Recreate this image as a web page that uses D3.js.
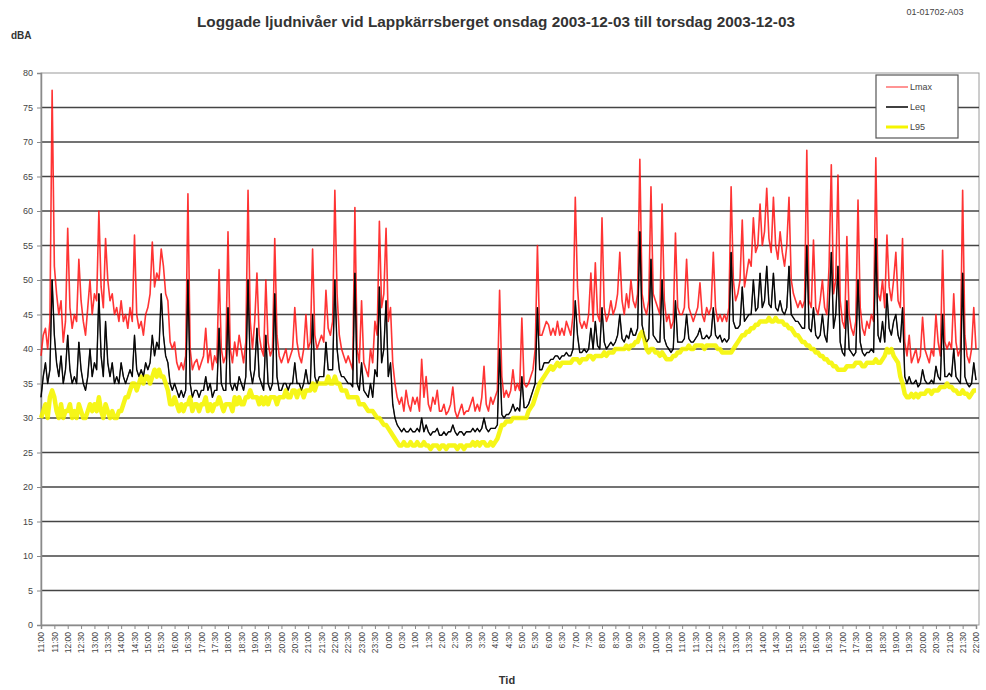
<!DOCTYPE html>
<html>
<head>
<meta charset="utf-8">
<script src="https://cdn.jsdelivr.net/npm/d3@7"></script>
<style>
  body { margin: 0; background: #fff; }
  svg { font-family: "Liberation Sans", Arial, sans-serif; }
</style>
</head>
<body>
<svg id="chart" width="986" height="690"></svg>
<script>
// Logged sound levels, one value every 5 minutes from 11:00 to 22:00 the next day
const lmax = [
  39, 42, 43, 40, 44, 77.5, 52, 48, 45, 47, 41, 44,
  57.5, 46, 43, 45, 44, 53, 47, 44, 42, 46, 50, 45,
  48, 47, 60, 49, 46, 56, 50, 47, 48, 45, 46, 44,
  47, 44, 45, 43, 46, 44, 56.5, 45, 43, 44, 42, 45,
  46, 48, 55.5, 49, 51, 50, 54.5, 52, 48, 47, 41, 40,
  41, 38, 37, 38, 37, 39, 62.5, 40, 37, 38, 38.5, 37,
  38, 39, 43, 38, 40, 37, 39, 38, 51.5, 40, 38, 39,
  57, 40, 38, 41, 39, 42, 40, 38, 41, 63, 44, 40,
  44, 51, 42, 40, 39, 50, 41, 39, 40, 56, 42, 39,
  38, 39, 40, 38, 39, 40, 46, 41, 39, 38, 40, 45,
  40, 41, 54.5, 42, 40, 41, 42, 41, 48.5, 43, 42, 44,
  63, 48, 42, 40, 39, 38, 39, 38, 37, 60.5, 40, 38,
  47, 38, 37, 36, 40, 38, 44, 42, 58.5, 46, 48, 57.5,
  44, 46, 38, 35, 33, 32, 33, 31, 34, 32, 31, 33,
  32, 33, 31, 38.5, 33, 36, 32, 31, 33, 32, 34, 31,
  31, 32, 30.5, 31, 32, 34.5, 31, 30, 31, 32, 30.5, 31,
  31, 32, 33, 31, 32, 31, 33, 37.5, 32, 31, 33, 32,
  33, 34, 48.5, 36, 33, 34, 33, 34, 37, 34, 35, 34,
  44.5, 35, 34.5, 35, 36, 37, 40, 55, 42, 42, 43, 44,
  43.5, 42, 43, 42, 44, 42, 43, 42, 44, 43, 42, 45,
  62, 49, 44, 43, 44, 43, 45, 51, 44, 52.5, 45, 44,
  59, 46, 44, 45, 47, 45, 46, 48, 54, 47, 45, 48,
  46, 50, 47, 46, 48, 67.5, 48, 46, 45, 47, 63.5, 48,
  47, 46, 45, 61, 47, 44, 45, 43, 44, 56.8, 46, 45,
  45, 46, 53, 46, 45, 44, 45, 46, 49.6, 45, 44, 46,
  45, 46, 54, 46, 44, 45, 44, 45, 44, 46, 63.5, 50,
  47, 48, 50, 58.7, 49, 51, 53, 52, 59, 54, 55, 61,
  55, 57, 63.3, 56, 54, 62, 55, 53, 57, 54, 52, 55,
  62, 50, 48, 47, 46, 47, 46, 47, 68.8, 47, 46, 55.8,
  46, 45, 47, 50, 46, 45, 52, 66.7, 48, 50, 65.2, 47,
  44, 43, 56.3, 45, 43, 42, 44, 61.6, 46, 43, 42, 44,
  43, 45, 44, 67.7, 48, 47, 50, 46, 56.5, 49, 47, 50,
  54, 47, 46, 56, 41, 39, 42, 38, 39, 40, 38, 39,
  44.6, 40, 39, 38, 40, 39, 45, 41, 39, 54.3, 41, 40,
  41, 40, 48, 41, 39, 40, 63, 42, 39, 38, 40, 46,
  40
];

const leq = [
  33, 36, 38, 35, 37, 50, 42, 38, 36, 39, 35, 37,
  42, 37, 35, 36, 35, 41, 37, 35, 34, 36, 40, 36,
  38, 37, 48, 39, 36, 44, 38, 36, 38, 35, 36, 35,
  38, 36, 35, 36, 37, 36, 42, 37, 36, 37, 36, 38,
  37, 38, 42, 39, 41, 40, 48, 42, 39, 38, 35, 34,
  35, 34, 33, 34, 33, 34, 50, 35, 33, 34, 34, 33,
  34, 34, 36, 34, 35, 33, 34, 34, 43, 35, 34, 34,
  46, 35, 34, 35, 34, 36, 35, 34, 36, 50, 37, 35,
  37, 43, 36, 35, 34, 42, 35, 34, 35, 48, 36, 34,
  34, 35, 35, 34, 35, 35, 38, 35, 35, 34, 35, 37,
  35, 35, 45, 36, 35, 36, 36, 36, 41, 37, 37, 37,
  50, 40, 37, 36, 36, 35.5, 35, 35, 34.5, 51, 35, 34,
  38, 34, 33.5, 33, 35, 33, 37, 36, 49, 38, 40, 47,
  36, 38, 32, 30, 29, 28.5, 28, 28.5, 28, 28, 28.5, 28,
  28, 28.5, 28, 30, 28, 29, 28, 27.5, 28, 28, 28.5, 27.5,
  27.5, 28, 27.5, 28, 28, 29, 28, 27.5, 28, 28, 27.5, 28,
  28, 28, 28.5, 28, 28.5, 28, 28.5, 30, 28.5, 28, 28.5, 28.5,
  28.5, 29, 40, 30.5, 30, 30.5, 30.5, 31, 32, 31, 31.5, 31,
  36, 31.5, 31.5, 32, 33, 34, 35, 46, 37, 37, 38, 38,
  38, 38.5, 38.5, 39, 39, 38.5, 39, 39, 39.5, 39, 39, 40,
  47, 42, 39.5, 39.5, 40, 39.5, 40, 43, 40, 44, 40.5, 40,
  46, 41, 40, 40.5, 41, 40.5, 41, 42, 45, 41.5, 41, 42,
  41.5, 43, 42, 42, 43, 57, 43.5, 42, 41, 41.5, 53, 42,
  41.5, 41, 41, 50, 41.5, 40.5, 40, 39.5, 40, 47, 41, 41,
  41, 41.5, 45, 41.5, 41, 41, 41.5, 42, 43, 41.5, 41.5, 42,
  41.5, 42, 46, 42, 41.5, 42, 41, 41.5, 41, 41.5, 54, 44,
  43, 43, 43.5, 49, 44, 44.5, 45, 45, 50, 45.5, 46, 51,
  46, 47, 52, 46.5, 46, 51, 46, 45.5, 47, 45.5, 45, 46,
  52, 45, 44.5, 44, 44, 43.5, 43, 43, 55, 43, 42.5, 46,
  42, 41.5, 42, 45, 42, 41, 46, 54, 43, 45, 52, 41,
  39.5, 39, 47, 40, 39.5, 39, 39.5, 50, 41, 39.5, 39, 39.5,
  39.5, 40, 39.5, 56, 42, 41, 44, 41, 48, 43, 42, 44,
  45, 42, 41, 46, 36, 35, 36, 35, 35, 35.5, 34.5, 35,
  37, 35.5, 35, 35, 35.5, 35, 37.5, 36, 35.5, 45, 36, 36,
  36.5, 36, 40, 36, 35.5, 35, 51, 36, 35, 34.5, 35, 38,
  35.5
];

const l95 = [
  30, 31, 32, 30, 33, 34, 33, 31, 30, 32, 30, 31,
  31, 32, 30, 31, 30, 32, 31, 30, 30, 31, 32, 31,
  32, 31, 33, 31, 30, 32, 31, 30, 31, 30, 30, 31,
  31, 32, 33, 33, 34, 35, 35, 34, 35, 36, 35, 36,
  36, 35, 36, 37, 36, 37, 36, 36, 35, 34, 32, 32,
  33, 32, 31, 32, 31, 32, 32, 33, 31, 32, 32, 31,
  32, 32, 33, 31, 32, 31, 32, 32, 33, 32, 31, 32,
  32, 32, 31, 33, 32, 33, 32, 32, 33, 33, 34, 33,
  33, 33, 32, 33, 32, 33, 32, 33, 33, 33, 32, 33,
  33, 33, 34, 33, 33, 34, 34, 33, 34, 34, 33, 34,
  34, 34, 35, 34, 35, 35, 35, 35, 35, 36, 35, 35,
  36, 35, 35, 34, 34, 34, 33, 33, 33, 33, 33, 32,
  32, 32, 31.5, 31, 31, 31, 30.5, 30, 30, 29.5, 29, 29,
  28.5, 28, 27.5, 27, 26.5, 26, 26, 26.5, 26, 26, 26.5, 26,
  26, 26.5, 26, 26, 26.5, 26, 26, 25.5, 26, 26, 26, 25.5,
  26, 26, 25.5, 26, 26, 26, 26, 25.5, 26, 26, 25.5, 26,
  26, 26, 26.5, 26, 26.5, 26, 26.5, 26.5, 26, 26, 26.5, 26,
  26.5, 27, 28, 29, 29, 29.5, 29.5, 29.5, 30, 30, 30, 30,
  30, 30, 30, 31, 31.5, 32, 33, 34, 35, 35.5, 36, 36.5,
  37, 37.5, 37, 37.5, 38, 37.5, 38, 38, 38, 38, 38, 38.5,
  38.5, 38.5, 38, 38.5, 38.5, 38.5, 39, 39, 38.5, 39, 39, 39,
  39, 39.5, 39, 39.5, 39.5, 39.5, 40, 40, 40, 40, 40, 40.5,
  40, 40.5, 40.5, 41, 41, 42, 42.5, 41.5, 40, 39.5, 40, 40,
  39.5, 39.5, 39, 39.5, 39, 38.5, 38.5, 38.5, 39, 39, 39.5, 39.5,
  40, 40, 40, 40.5, 40, 40, 40.5, 40.5, 40.5, 40.5, 40, 40.5,
  40.5, 40.5, 40.5, 40.5, 40, 40, 39.5, 39.5, 39.5, 39.5, 39.5, 40,
  40.5, 41, 41.5, 42, 42, 42.5, 42.5, 43, 43, 43.5, 43.5, 44,
  44, 44, 44, 44.5, 44, 44, 44.5, 44, 44, 44, 43.5, 43.5,
  43, 43, 42.5, 42, 42, 41.5, 41, 41, 40.5, 40.5, 40, 40,
  39.5, 39.5, 39, 39, 38.5, 38.5, 38, 38, 37.5, 37.5, 37, 37,
  37, 37, 37.5, 37.5, 37.5, 37.5, 38, 38, 38, 37.5, 37.5, 38,
  38, 38, 38, 38.5, 38, 38, 38.5, 39, 40, 39.5, 40, 39,
  38.5, 38, 36, 35, 33.5, 33, 33, 33.5, 33, 33.5, 33, 33.5,
  33.5, 33.5, 34, 34, 33.5, 34, 34, 34, 34.5, 34.5, 34.5, 35,
  34.5, 34.5, 34, 34, 33.5, 33.5, 34, 33.5, 33.5, 33, 33.5, 34,
  34
];

// One label every 30 minutes (every 6th sample)
const tickLabels = [
  '11:00', '11:30', '12:00', '12:30', '13:00', '13:30', '14:00', '14:30',
  '15:00', '15:30', '16:00', '16:30', '17:00', '17:30', '18:00', '18:30',
  '19:00', '19:30', '20:00', '20:30', '21:00', '21:30', '22:00', '22:30',
  '23:00', '23:30', '0:00', '0:30', '1:00', '1:30', '2:00', '2:30',
  '3:00', '3:30', '4:00', '4:30', '5:00', '5:30', '6:00', '6:30',
  '7:00', '7:30', '8:00', '8:30', '9:00', '9:30', '10:00', '10:30',
  '11:00', '11:30', '12:00', '12:30', '13:00', '13:30', '14:00', '14:30',
  '15:00', '15:30', '16:00', '16:30', '17:00', '17:30', '18:00', '18:30',
  '19:00', '19:30', '20:00', '20:30', '21:00', '21:30', '22:00'
];

const yTicks = [0, 5, 10, 15, 20, 25, 30, 35, 40, 45, 50, 55, 60, 65, 70, 75, 80];

const seriesNames = ['Lmax', 'Leq', 'L95'];
const seriesColors = ['#ff1010', '#000000', '#f5f500'];

const svg = d3.select('#chart');

// Plot area
const margin = { top: 73, right: 10, bottom: 65, left: 41 };
const plotRight = 979;
const plotBottom = 625;

const x = d3.scaleLinear()
  .domain([0, lmax.length - 1])
  .range([margin.left, 976]);

const y = d3.scaleLinear()
  .domain([0, 80])
  .range([plotBottom, margin.top]);

// Plot border
svg.append('rect')
  .attr('x', margin.left)
  .attr('y', margin.top)
  .attr('width', plotRight - margin.left)
  .attr('height', plotBottom - margin.top)
  .attr('fill', '#fff')
  .attr('stroke', '#9a9a9a')
  .attr('stroke-width', 1);

// Horizontal grid lines
svg.append('g')
  .selectAll('line')
  .data(yTicks.filter((d) => d > 0 && d < 80))
  .join('line')
  .attr('x1', margin.left)
  .attr('x2', plotRight)
  .attr('y1', (d) => y(d))
  .attr('y2', (d) => y(d))
  .attr('stroke', '#444')
  .attr('stroke-width', 1.7);

// Y axis
const yAxis = svg.append('g')
  .attr('transform', `translate(${margin.left},0)`)
  .call(d3.axisLeft(y).tickValues(yTicks).tickSize(4).tickPadding(4).tickFormat(d3.format('d')));
yAxis.select('.domain').attr('stroke', '#8a8a8a').attr('stroke-width', 1.5);
yAxis.selectAll('.tick line').attr('stroke', '#8a8a8a');
yAxis.selectAll('text').attr('font-size', 9).attr('fill', '#444');

// X axis
const xAxis = svg.append('g')
  .attr('transform', `translate(0,${plotBottom})`)
  .call(d3.axisBottom(x)
    .tickValues(tickLabels.map((d, i) => i * 6))
    .tickSize(4)
    .tickFormat((d) => tickLabels[d / 6]));
xAxis.select('.domain').attr('stroke', '#8a8a8a').attr('stroke-width', 1.5);
xAxis.selectAll('.tick line').attr('stroke', '#8a8a8a');
xAxis.selectAll('text')
  .attr('font-size', 8.5)
  .attr('fill', '#444')
  .attr('transform', 'rotate(-90)')
  .attr('x', -7)
  .attr('y', 0)
  .attr('dy', '0.32em')
  .style('text-anchor', 'end');

// Series lines, Lmax first so the others sit on top
const line = d3.line()
  .x((d, i) => x(i))
  .y((d) => y(d));

const allSeries = [lmax, leq, l95];
const widths = [1.6, 1.4, 4.5];
const opacities = [0.85, 0.9, 0.9];

svg.append('g')
  .selectAll('path')
  .data(allSeries)
  .join('path')
  .attr('d', line)
  .attr('fill', 'none')
  .attr('stroke', (d, i) => seriesColors[i])
  .attr('stroke-width', (d, i) => widths[i])
  .attr('stroke-opacity', (d, i) => opacities[i])
  .attr('stroke-linejoin', 'round');

// Redraw the Leq line thin on top of the yellow band
svg.append('path')
  .attr('d', line(leq))
  .attr('fill', 'none')
  .attr('stroke', '#000')
  .attr('stroke-width', 1)
  .attr('stroke-opacity', 0.75);

// Legend
const legend = svg.append('g').attr('transform', 'translate(876,75)');
legend.append('rect')
  .attr('width', 82)
  .attr('height', 63)
  .attr('fill', '#fff')
  .attr('stroke', '#555')
  .attr('stroke-width', 1.2);

const items = legend.selectAll('.item')
  .data(seriesNames)
  .join('g')
  .attr('class', 'item')
  .attr('transform', (d, i) => `translate(0,${12 + i * 20})`);

items.append('line')
  .attr('x1', 10)
  .attr('x2', 32)
  .attr('stroke', (d, i) => seriesColors[i])
  .attr('stroke-width', (d, i) => (i === 2 ? 3 : 1.5))
  .attr('stroke-opacity', (d, i) => (i === 0 ? 0.6 : 1));

items.append('text')
  .attr('x', 34)
  .attr('dy', '0.35em')
  .attr('font-size', 9)
  .attr('fill', '#444')
  .text((d) => d);

// Titles
svg.append('text')
  .attr('x', 496)
  .attr('y', 27)
  .attr('text-anchor', 'middle')
  .attr('font-size', 14)
  .attr('font-weight', 'bold')
  .attr('fill', '#333')
  .attr('textLength', 598)
  .attr('lengthAdjust', 'spacingAndGlyphs')
  .text('Loggade ljudnivåer vid Lappkärrsberget onsdag 2003-12-03 till torsdag 2003-12-03');

svg.append('text')
  .attr('x', 935)
  .attr('y', 15)
  .attr('text-anchor', 'middle')
  .attr('font-size', 9)
  .attr('fill', '#444')
  .text('01-01702-A03');

svg.append('text')
  .attr('x', 11)
  .attr('y', 39)
  .attr('font-size', 10)
  .attr('font-weight', 'bold')
  .attr('fill', '#333')
  .text('dBA');

svg.append('text')
  .attr('x', 507)
  .attr('y', 684)
  .attr('text-anchor', 'middle')
  .attr('font-size', 11)
  .attr('font-weight', 'bold')
  .attr('fill', '#333')
  .text('Tid');
</script>
</body>
</html>
